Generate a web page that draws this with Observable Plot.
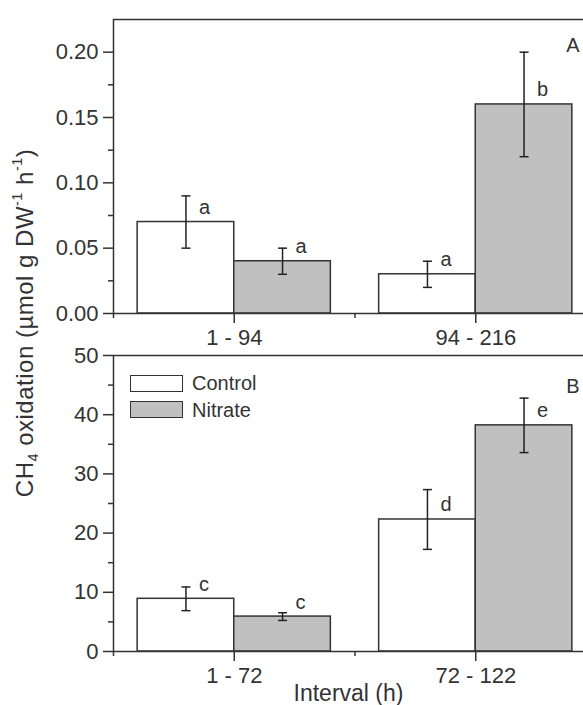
<!DOCTYPE html>
<html><head><meta charset="utf-8">
<script src="https://cdn.jsdelivr.net/npm/d3@7"></script>
<script src="https://cdn.jsdelivr.net/npm/@observablehq/plot@0.6"></script>
<style>
body{margin:0;background:#fff;}
#wrap{position:relative;width:583px;height:705px;overflow:hidden;font-family:"Liberation Sans",Arial,sans-serif;color:#333;background:#fff;}
#top,#bottom{position:absolute;left:0;}
#top{top:0}
#bottom{top:345px}
svg{display:block;overflow:visible}
#ylab{position:absolute;left:25px;top:322.5px;transform:translate(-50%,-50%) rotate(-90deg);font-size:24px;letter-spacing:0.5px;line-height:1;white-space:nowrap;}
#ylab sub,#ylab sup{font-size:60%;line-height:0;position:relative;vertical-align:baseline}
#ylab sub{top:0.35em}
#ylab sup{top:-0.75em}
.box{position:absolute;left:130px;width:51px;height:15px;border:1.5px solid #333;}
.ltxt{position:absolute;left:192px;font-size:20px;line-height:20px;}
</style>
</head><body>
<div id="wrap">
  <div id="top"></div>
  <div id="bottom"></div>
  <div id="ylab">CH<sub>4</sub> oxidation (µmol g DW<sup>-1</sup> h<sup>-1</sup>)</div>
  <div class="box" style="top:375px;background:#fff"></div>
  <div class="ltxt" style="top:373px">Control</div>
  <div class="box" style="top:401px;background:#c0c0c0"></div>
  <div class="ltxt" style="top:400px">Nitrate</div>
</div>
<script>
// Panel A data
const groupsA = ["1 - 94", "94 - 216"];
const controlA = [0.07, 0.03];
const controlAErr = [0.02, 0.01];
const nitrateA = [0.04, 0.16];
const nitrateAErr = [0.01, 0.04];
const lettersControlA = ["a", "a"];
const lettersNitrateA = ["a", "b"];
const yTicksA = [0, 0.05, 0.10, 0.15, 0.20];
const yMinorA = [0.025, 0.075, 0.125, 0.175];

// Panel B data
const groupsB = ["1 - 72", "72 - 122"];
const controlB = [8.9, 22.3];
const controlBErr = [2.0, 5.05];
const nitrateB = [5.9, 38.2];
const nitrateBErr = [0.65, 4.6];
const lettersControlB = ["c", "d"];
const lettersNitrateB = ["c", "e"];
const yTicksB = [0, 10, 20, 30, 40, 50];
const yMinorB = [5, 15, 25, 35, 45];

const seriesNames = ["Control", "Nitrate"];

const FONT = '"Liberation Sans", Arial, sans-serif';
const INK = "#333";
const BAR = 0.4;
const xDomain = [0.5, 2.5];
const xRange = [113, 596];
const cap = {draw(ctx) { ctx.moveTo(-4.5, 0); ctx.lineTo(4.5, 0); }};

function rowsFor(groups, c, ce, n, ne, lc, ln) {
  const rows = [];
  groups.forEach((g, i) => {
    const x = i + 1;
    rows.push({series: seriesNames[0], x1: x - BAR, x2: x, cx: x - BAR / 2, v: c[i], e: ce[i], letter: lc[i]});
    rows.push({series: seriesNames[1], x1: x, x2: x + BAR, cx: x + BAR / 2, v: n[i], e: ne[i], letter: ln[i]});
  });
  return rows;
}

function panel(o) {
  const rows = rowsFor(o.groups, o.c, o.ce, o.n, o.ne, o.lc, o.ln);
  const major = o.groups.map((_, i) => i + 1);
  const minor = [0.5, ...o.groups.map((_, i) => i + 1.5)];
  return Plot.plot({
    width: 583, height: o.height, marginTop: o.marginTop, marginBottom: o.marginBottom,
    marginLeft: 113, marginRight: 0,
    x: {domain: xDomain, range: xRange},
    y: {domain: o.yDomain},
    style: {fontFamily: FONT, fontSize: "22px", color: INK, background: "transparent", overflow: "visible"},
    marks: [
      Plot.rectY(rows.filter(d => d.series === "Control"), {x1: "x1", x2: "x2", y: "v", fill: "white", stroke: INK, strokeWidth: 1.5}),
      Plot.rectY(rows.filter(d => d.series === "Nitrate"), {x1: "x1", x2: "x2", y: "v", fill: "#c0c0c0", stroke: INK, strokeWidth: 1.5}),
      Plot.ruleX(rows, {x: "cx", y1: d => d.v - d.e, y2: d => d.v + d.e, stroke: "#222", strokeWidth: 1.5}),
      Plot.dot(rows, {x: "cx", y: d => d.v + d.e, symbol: cap, fill: "none", stroke: "#222", strokeWidth: 1.5}),
      Plot.dot(rows, {x: "cx", y: d => d.v - d.e, symbol: cap, fill: "none", stroke: "#222", strokeWidth: 1.5}),
      Plot.text(rows, {x: "cx", y: "v", text: "letter", dx: 13, dy: -8, textAnchor: "start", lineAnchor: "bottom", fontSize: 20, fill: INK}),
      Plot.ruleX([xDomain[0]], {stroke: INK, strokeWidth: 1.5}),
      Plot.ruleY([0, o.yDomain[1]], {stroke: INK, strokeWidth: 1.5}),
      Plot.axisY({ticks: o.yTicks, tickSize: 10, tickPadding: 5, tickFormat: o.fmt, strokeWidth: 1.5, label: null}),
      Plot.axisY({ticks: o.yMinor, tickSize: 5, tickFormat: () => "", strokeWidth: 1.5, label: null}),
      Plot.axisX({ticks: major, tickSize: 10, tickPadding: 6, tickFormat: d => o.groups[d - 1], strokeWidth: 1.5, label: null}),
      Plot.axisX({ticks: minor, tickSize: 5, tickFormat: () => "", strokeWidth: 1.5, label: null}),
      Plot.text([o.panelLabel], {frameAnchor: "top-right", dx: -4, dy: o.panelDy, textAnchor: "end", lineAnchor: "bottom", fontSize: 20, fill: INK}),
      ...(o.xLabel ? [Plot.text([o.xLabel], {frameAnchor: "bottom", dy: 42, lineAnchor: "middle", fontSize: 23, fill: INK})] : [])
    ]
  });
}

document.getElementById("top").append(panel({
  groups: groupsA, c: controlA, ce: controlAErr, n: nitrateA, ne: nitrateAErr, lc: lettersControlA, ln: lettersNitrateA,
  yDomain: [0, 0.225], yTicks: yTicksA, yMinor: yMinorA, fmt: d3.format(".2f"),
  height: 345, marginTop: 19, marginBottom: 32, panelLabel: "A", panelDy: 32
}));
document.getElementById("bottom").append(panel({
  groups: groupsB, c: controlB, ce: controlBErr, n: nitrateB, ne: nitrateBErr, lc: lettersControlB, ln: lettersNitrateB,
  yDomain: [0, 50], yTicks: yTicksB, yMinor: yMinorB, fmt: d3.format("d"),
  height: 360, marginTop: 10, marginBottom: 54, panelLabel: "B", panelDy: 37, xLabel: "Interval (h)"
}));
</script>
</body></html>
